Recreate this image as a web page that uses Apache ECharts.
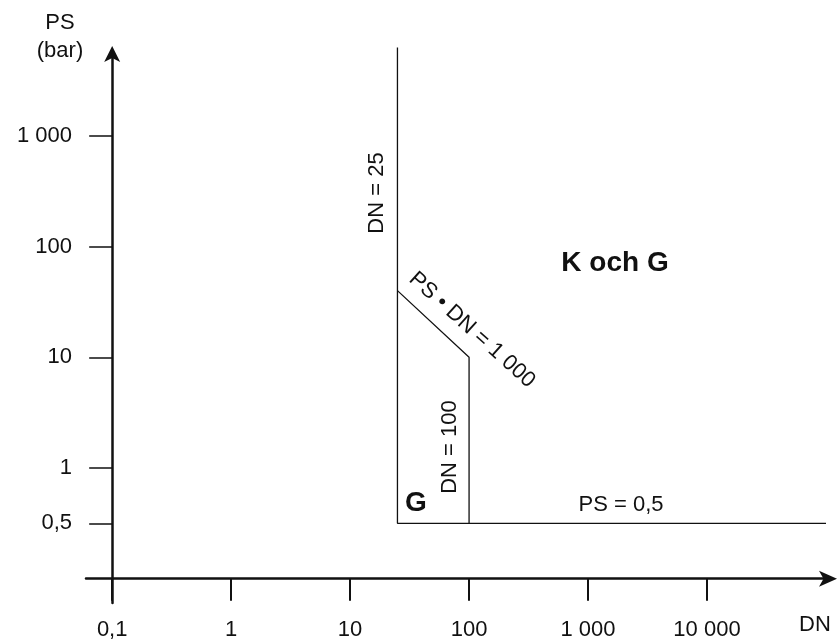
<!DOCTYPE html>
<html>
<head>
<meta charset="utf-8">
<script src="https://cdn.jsdelivr.net/npm/echarts@6/dist/echarts.min.js"></script>
<style>
  html, body { margin: 0; padding: 0; background: #fff; }
  #main { width: 838px; height: 639px; }
</style>
</head>
<body>
<div id="main"></div>
<script>
// tick positions and labels
const xTickDN = [0.1, 1, 10, 100, 1000, 10000];
const xTickLabels = ['0,1', '1', '10', '100', '1 000', '10 000'];
const yTickPS = [0.5, 1, 10, 100, 1000];
const yTickLabels = ['0,5', '1', '10', '100', '1 000'];

// boundary lines (DN, PS)
const outerDN = [25, 25, 100000];
const outerPS = [6300, 0.5, 0.5];
const innerDN = [25, 100, 100];
const innerPS = [40, 10, 0.5];

// axis units: decades, 0.1 -> 0 ; PS below 1 drawn linear
function xPos(dn) { return Math.log10(dn) + 1; }
function yPos(ps) { return ps < 1 ? ps : Math.log10(ps) + 1; }

function toPoints(dns, pss) {
    const pts = [];
    for (let i = 0; i < dns.length; i++) {
        pts.push([xPos(dns[i]), yPos(pss[i])]);
    }
    return pts;
}

function labelFor(values, labels, fn) {
    return function (v) {
        for (let i = 0; i < values.length; i++) {
            if (Math.abs(fn(values[i]) - v) < 1e-6) return labels[i];
        }
        return '';
    };
}

const ink = '#111';
const font = 'Liberation Sans, Arial, sans-serif';

const myChart = echarts.init(document.getElementById('main'));
const option = {
    backgroundColor: '#fff',
    animation: false,
    grid: {
        left: 86, right: 10, top: 54, bottom: 36,
        outerBoundsMode: 'none'
    },
    xAxis: {
        type: 'value',
        min: -0.22,
        max: 6.017,
        splitLine: { show: false },
        axisLine: {
            onZero: true,
            symbol: ['none', 'arrow'],
            symbolSize: [12, 18],
            symbolOffset: [0, 9],
            lineStyle: { color: ink, width: 2.5 }
        },
        axisTick: {
            customValues: xTickDN.map(xPos),
            length: 22,
            lineStyle: { color: ink, width: 2 }
        },
        axisLabel: {
            customValues: xTickDN.map(xPos),
            formatter: labelFor(xTickDN, xTickLabels, xPos),
            margin: 16,
            color: ink,
            fontSize: 22,
            fontFamily: font
        }
    },
    yAxis: {
        type: 'value',
        min: -0.22,
        max: 4.74,
        splitLine: { show: false },
        axisLine: {
            onZero: true,
            symbol: ['none', 'arrow'],
            symbolSize: [12, 16],
            symbolOffset: [0, 8],
            lineStyle: { color: ink, width: 2.5 }
        },
        axisTick: {
            customValues: yTickPS.map(yPos),
            length: 23,
            lineStyle: { color: ink, width: 1.5 }
        },
        axisLabel: {
            customValues: yTickPS.map(yPos),
            formatter: labelFor(yTickPS, yTickLabels, yPos),
            margin: 14,
            color: ink,
            fontSize: 22,
            fontFamily: font
        }
    },
    series: [
        {
            type: 'line',
            data: toPoints(outerDN, outerPS),
            symbol: 'none',
            clip: false,
            lineStyle: { color: ink, width: 1.3 }
        },
        {
            type: 'line',
            data: toPoints(innerDN, innerPS),
            symbol: 'none',
            clip: false,
            lineStyle: { color: ink, width: 1.3 }
        }
    ],
    graphic: [
        { type: 'text', x: 60, y: 23, style: { text: 'PS', fill: ink, font: '22px ' + font, textAlign: 'center', textVerticalAlign: 'middle' } },
        { type: 'text', x: 60, y: 51, style: { text: '(bar)', fill: ink, font: '22px ' + font, textAlign: 'center', textVerticalAlign: 'middle' } },
        { type: 'text', x: 815, y: 625, style: { text: 'DN', fill: ink, font: '22px ' + font, textAlign: 'center', textVerticalAlign: 'middle' } },
        { type: 'text', x: 377, y: 193, rotation: Math.PI / 2, style: { text: 'DN = 25', fill: ink, font: '22px ' + font, textAlign: 'center', textVerticalAlign: 'middle' } },
        { type: 'text', x: 450, y: 447, rotation: Math.PI / 2, style: { text: 'DN = 100', fill: ink, font: '22px ' + font, textAlign: 'center', textVerticalAlign: 'middle' } },
        { type: 'text', x: 472, y: 330, rotation: -42 * Math.PI / 180, style: { text: 'PS • DN = 1 000', fill: ink, font: '22px ' + font, textAlign: 'center', textVerticalAlign: 'middle' } },
        { type: 'text', x: 621, y: 505, style: { text: 'PS = 0,5', fill: ink, font: '22px ' + font, textAlign: 'center', textVerticalAlign: 'middle' } },
        { type: 'text', x: 416, y: 503, style: { text: 'G', fill: ink, font: 'bold 28px ' + font, textAlign: 'center', textVerticalAlign: 'middle' } },
        { type: 'text', x: 615, y: 263, style: { text: 'K och G', fill: ink, font: 'bold 28px ' + font, textAlign: 'center', textVerticalAlign: 'middle' } }
    ]
};
myChart.setOption(option);
</script>
</body>
</html>
